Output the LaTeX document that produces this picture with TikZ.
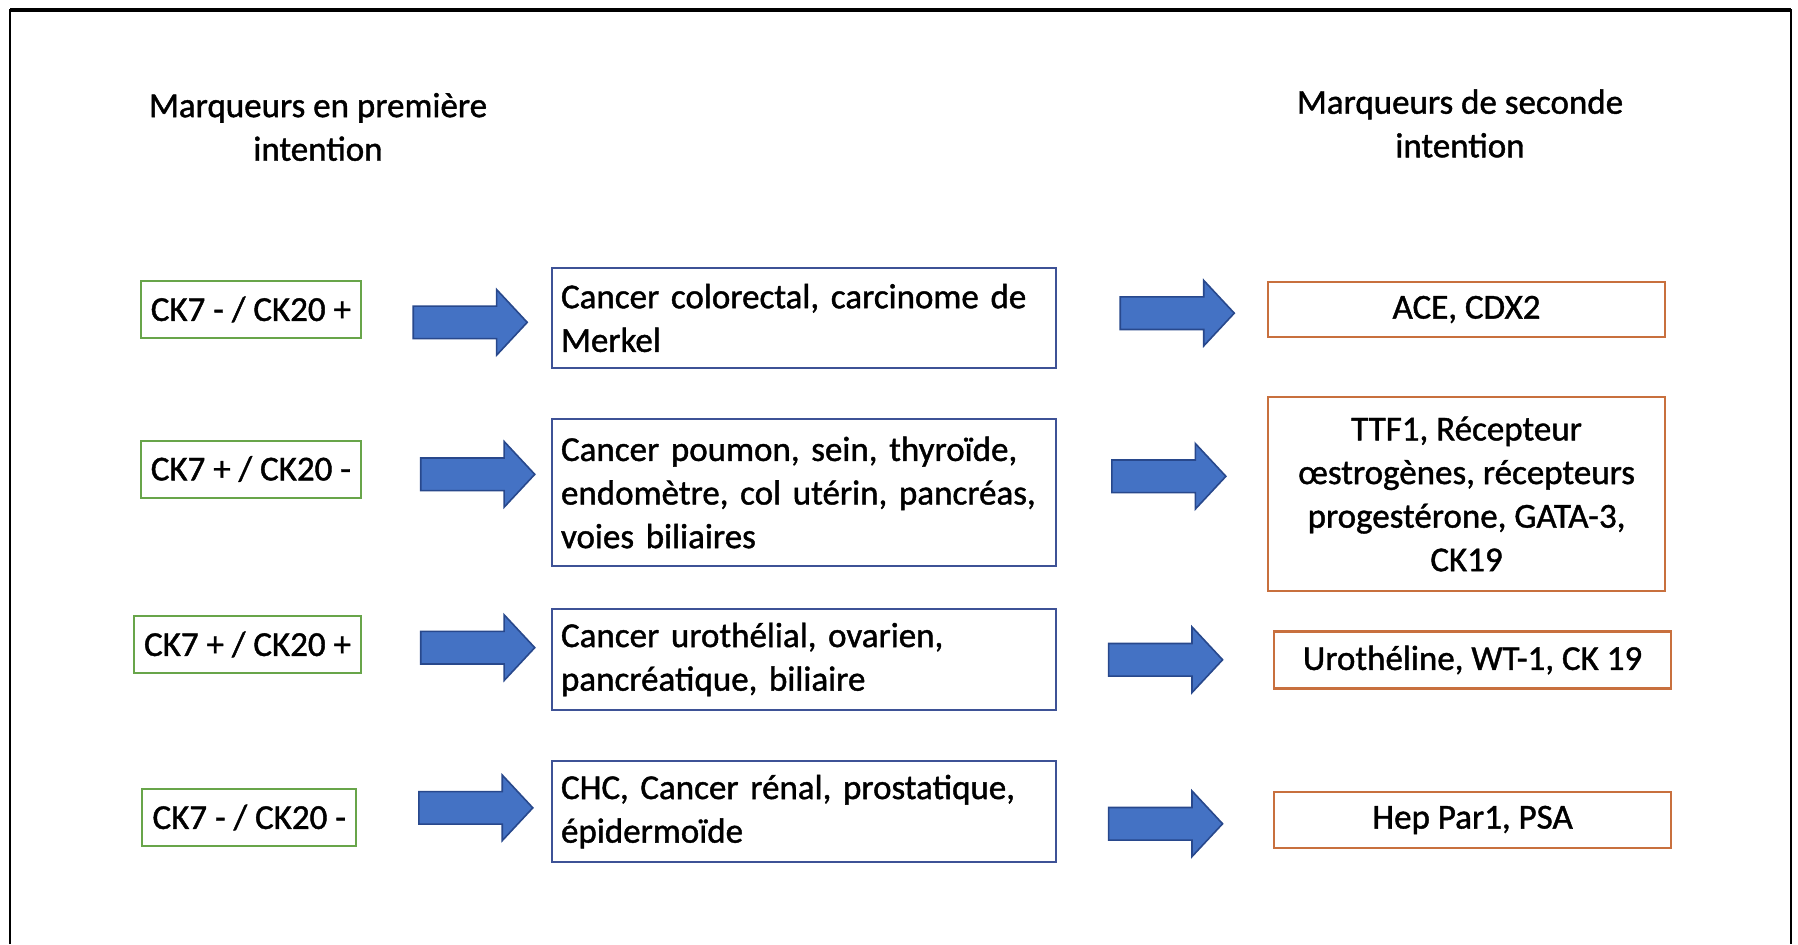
\documentclass[tikz,border=0pt]{standalone}
\usepackage{fontspec}
\setmainfont{Carlito}[UprightFeatures={FakeBold=1.2}]
\usepackage{xcolor}
\usetikzlibrary{shapes.arrows, positioning}

\definecolor{ckgreen}{RGB}{104,165,74}
\definecolor{canblue}{RGB}{62,82,150}
\definecolor{mkorange}{RGB}{200,112,62}
\definecolor{arrowfill}{RGB}{68,114,196}
\definecolor{arrowedge}{RGB}{40,72,140}

\begin{document}
\begin{tikzpicture}[
    x=0.5pt, y=-0.5pt,
    font=\fontsize{17.5pt}{21.8pt}\selectfont,
    titletext/.style={align=center, inner sep=0pt},
    ckbox/.style={rectangle, draw=ckgreen, line width=1pt, inner xsep=5pt, minimum height=28.5pt},
    cancerbox/.style={rectangle, draw=canblue, line width=1.2pt, text width=243pt, inner xsep=4.5pt, inner ysep=0pt, align=left, minimum height=#1},
    markbox/.style={rectangle, draw=mkorange, line width=1.2pt, align=center, inner ysep=0pt, minimum width=198.5pt, minimum height=#1},
    bigarrow/.style={single arrow, draw=arrowedge, fill=arrowfill, line width=0.8pt, minimum height=57pt, inner xsep=0pt, inner ysep=7.75pt, single arrow head extend=8.25pt, single arrow tip angle=94, xshift=-3.5pt}
]
\useasboundingbox (0,0) rectangle (1798,944);

% cadre
\draw[line width=1pt] (10,944) -- (10,10) -- (1791,10) -- (1791,944);
\draw[line width=2.2pt] (10,10) -- (1791,10);

% titres
\node[titletext] (tit1) at (318,127) {Marqueurs en première\\intention};
\node[titletext] (tit2) at (1460,123.5) {Marqueurs de seconde\\intention};

% marqueurs en premiere intention
\node[ckbox, anchor=east] (ck1) at (362,309.5) {CK7 - / CK20 +};
\node[ckbox, anchor=east] (ck2) at (362,469) {CK7 + / CK20 -};
\node[ckbox, anchor=east] (ck3) at (362,644.5) {CK7 + / CK20 +};
\node[ckbox, anchor=east] (ck4) at (357,817.5) {CK7 - / CK20 -};

% cancers
\node[cancerbox=50pt] (can1) at (804,318) {Cancer colorectal, carcinome de\\Merkel};
\node[cancerbox=73.5pt] (can2) at (804,492.5) {Cancer poumon, sein, thyroïde,\\endomètre, col utérin, pancréas,\\voies biliaires};
\node[cancerbox=50.5pt] (can3) at (804,659.5) {Cancer urothélial, ovarien,\\pancréatique, biliaire};
\node[cancerbox=50.5pt] (can4) at (804,811.5) {CHC, Cancer rénal, prostatique,\\épidermoïde};

% marqueurs de seconde intention
\node[markbox=27.5pt] (mk1) at (1466.5,309.5) {ACE, CDX2};
\node[markbox=97pt] (mk2) at (1466.5,494) {TTF1, Récepteur\\œstrogènes, récepteurs\\progestérone, GATA-3,\\CK19};
\node[markbox=28.5pt] (mk3) at (1472.5,660) {Urothéline, WT-1, CK 19};
\node[markbox=28pt] (mk4) at (1472.5,820) {Hep Par1, PSA};

% fleches
\path (ck1.east) -- node[bigarrow, pos=.57, yshift=-4pt] (fl1) {} (can1.west);
\path (ck2.east) -- node[bigarrow, pos=.61, yshift=4.5pt] (fl2) {} (can2.west);
\path (ck3.east) -- node[bigarrow, pos=.61, yshift=3pt] (fl3) {} (can3.west);
\path (ck4.east) -- node[bigarrow, pos=.61, yshift=3pt] (fl4) {} (can4.west);
\path (can1.east) -- node[bigarrow, pos=.57] (fl5) {} (mk1.west);
\path (can2.east) -- node[bigarrow, pos=.53, yshift=8.5pt] (fl6) {} (mk2.west);
\path (can3.east) -- node[bigarrow, pos=.5] (fl7) {} (mk3.west);
\path (can4.east) -- node[bigarrow, pos=.5, yshift=-4pt] (fl8) {} (mk4.west);
\end{tikzpicture}
\end{document}
